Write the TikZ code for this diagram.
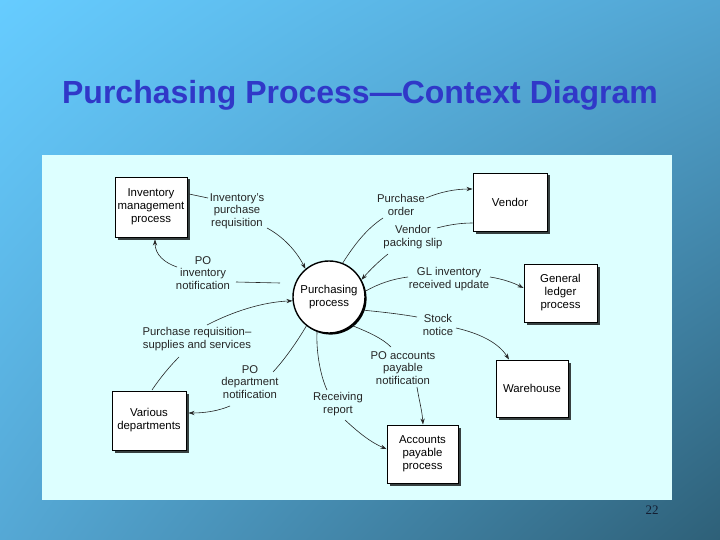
\documentclass[tikz,border=0pt]{standalone}
\usepackage{fontspec}
\setmainfont{Liberation Sans}
\newfontfamily\serifpn{Liberation Serif}
\usetikzlibrary{arrows.meta,shadows,shadings}
\definecolor{bgtl}{RGB}{102,204,255}
\definecolor{bgtr}{RGB}{82,165,210}
\definecolor{bgbl}{RGB}{85,168,213}
\definecolor{bgbr}{RGB}{46,96,120}
\definecolor{panel}{RGB}{221,255,255}
\definecolor{titleblue}{RGB}{48,56,200}
\definecolor{pagenum}{RGB}{20,30,50}
\tikzset{
  procbox/.style={draw=black, line width=0.9pt, fill=white, align=center,
    font=\fontsize{11.4}{13}\selectfont, inner sep=0pt,
    drop shadow={fill=black, opacity=0.75, shadow xshift=2.5pt, shadow yshift=-2.5pt}},
  flowlabel/.style={align=center, font=\fontsize{11.3}{12.6}\selectfont, text=black!85, inner sep=1pt},
  flow/.style={draw=black!85, line width=0.6pt},
  flowarrow/.style={flow, -{Stealth[length=6pt,width=4.2pt]}}
}
\begin{document}
\begin{tikzpicture}[x=1pt,y=-1pt]
\useasboundingbox (0,0) rectangle (720,540);
% background
\shade[upper left=bgtl, upper right=bgtr, lower left=bgbl, lower right=bgbr] (0,0) rectangle (720,540);
\fill[panel] (42,155) rectangle (672,500);
% title
\node[font=\bfseries\fontsize{32}{36}\selectfont, text=titleblue] (title) at (360,95) {Purchasing Process—Context Diagram};
\node[font=\serifpn\fontsize{13}{15}\selectfont, text=pagenum] (pnum) at (652,510) {22};

% central process
\node[circle, draw=black, line width=1.4pt, fill=white, minimum size=72pt, inner sep=0pt,
  align=center, font=\fontsize{11.4}{13}\selectfont,
  drop shadow={fill=black, opacity=1, shadow xshift=1.6pt, shadow yshift=-1.6pt}] (pp) at (329,297) {Purchasing\\process};

% external boxes
\node[procbox, minimum width=72pt, minimum height=60pt] (inv) at (151,207) {Inventory\\management\\process};
\node[procbox, minimum width=74pt, minimum height=58pt] (ven) at (510,202) {Vendor};
\node[procbox, minimum width=73pt, minimum height=58pt] (gl) at (560.5,293) {General\\ledger\\process};
\node[procbox, minimum width=72pt, minimum height=57pt] (wh) at (532,388.5) {Warehouse};
\node[procbox, minimum width=71pt, minimum height=58pt] (ap) at (422.5,454) {Accounts\\payable\\process};
\node[procbox, minimum width=74pt, minimum height=59pt] (vd) at (149,420.5) {Various\\departments};

% labels
\node[flowlabel] (l1) at (237,211) {Inventory's\\purchase\\requisition};
\node[flowlabel] (l2) at (203,273) {PO\\inventory\\notification};
\node[flowlabel] (l3) at (401,205) {Purchase\\order};
\node[flowlabel] (l4) at (413,237) {Vendor\\packing slip};
\node[flowlabel] (l5) at (449,279) {GL inventory\\received update};
\node[flowlabel] (l6) at (438,325) {Stock\\notice};
\node[flowlabel] (l7) at (403,368) {PO accounts\\payable\\notification};
\node[flowlabel] (l8) at (338,404) {Receiving\\report};
\node[flowlabel] (l9) at (250,382) {PO\\department\\notification};
\node[flowlabel] (l10) at (197,339) {Purchase requisition–\\supplies and services};

% connector coordinates
\coordinate (c1a) at (189,194);  \coordinate (c1b) at (208,198);  \coordinate (c1c) at (267,228);
\coordinate (c2a) at (280,283);  \coordinate (c2b) at (236,282);  \coordinate (c2c) at (177,267);
\coordinate (c2d) at (155,239.5);
\coordinate (c3b) at (383,218);  \coordinate (c3c) at (426,198);  \coordinate (c3d) at (472.5,189);
\coordinate (c4a) at (472.5,223); \coordinate (c4b) at (437,228); \coordinate (c4c) at (388,254);
\coordinate (c5b) at (408,277);  \coordinate (c5c) at (490,277);  \coordinate (c5d) at (523.5,288);
\coordinate (c6b) at (417,317);  \coordinate (c6c) at (456,328);  \coordinate (c6d) at (509,359.5);
\coordinate (c7b) at (391,347);  \coordinate (c7c) at (417,387);  \coordinate (c7d) at (423,424.5);
\coordinate (c8b) at (327,390);  \coordinate (c8c) at (345,420);  \coordinate (c8d) at (386.5,449);
\coordinate (c9b) at (273,372);  \coordinate (c9c) at (230,406);  \coordinate (c9d) at (188.5,413);
\coordinate (c10a) at (152,390); \coordinate (c10b) at (179,357); \coordinate (c10c) at (207,325);

% 1 inventory's purchase requisition
\draw[flow] (c1a) -- (c1b);
\draw[flowarrow] (c1c) .. controls (282,236) and (296,250) .. (pp.130);
% 2 PO inventory notification
\draw[flow] (c2a) -- (c2b);
\draw[flowarrow] (c2c) .. controls (165,263) and (155,255) .. (c2d);
% 3 purchase order
\draw[flow] (pp.68) .. controls (356,242) and (368,228) .. (c3b);
\draw[flowarrow] (c3c) .. controls (440,192) and (455,189) .. (c3d);
% 4 vendor packing slip
\draw[flow] (c4a) .. controls (460,223) and (448,225) .. (c4b);
\draw[flowarrow] (c4c) .. controls (378,262) and (370,270) .. (pp.28);
% 5 GL inventory received update
\draw[flow] (pp.9) .. controls (378,284) and (392,279) .. (c5b);
\draw[flowarrow] (c5c) .. controls (503,279) and (514,283) .. (c5d);
% 6 stock notice
\draw[flow] (pp.-21) .. controls (382,312) and (400,314) .. (c6b);
\draw[flowarrow] (c6c) .. controls (478,333) and (498,342) .. (c6d);
% 7 PO accounts payable notification
\draw[flow] (pp.-51) .. controls (368,332) and (382,338) .. (c7b);
\draw[flowarrow] (c7c) .. controls (419,400) and (422,410) .. (c7d);
% 8 receiving report
\draw[flow] (pp.-109) .. controls (316,350) and (320,375) .. (c8b);
\draw[flowarrow] (c8c) .. controls (358,432) and (370,442) .. (c8d);
% 9 PO department notification
\draw[flow] (pp.-128) .. controls (298,340) and (286,358) .. (c9b);
\draw[flowarrow] (c9c) .. controls (218,411) and (205,413) .. (c9d);
% 10 purchase requisition - supplies and services
\draw[flow] (c10a) .. controls (160,378) and (170,366) .. (c10b);
\draw[flowarrow] (c10c) .. controls (232,312) and (262,302) .. (pp.186);
\end{tikzpicture}
\end{document}
